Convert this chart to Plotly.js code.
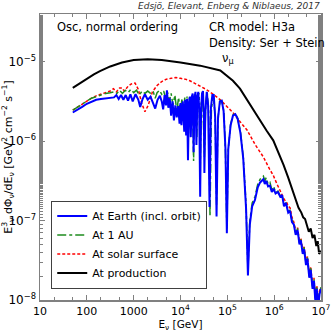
<!DOCTYPE html>
<html>
<head>
<meta charset="utf-8">
<script src="https://cdn.plot.ly/plotly-3.0.1.min.js"></script>
<style>
  html, body { margin: 0; padding: 0; background: #fff; }
  #plot { width: 332px; height: 332px; }
</style>
</head>
<body>
<div id="plot"></div>
<script>
// values, as log10(E/GeV) and log10(flux)
var earthLogE = [1.70,1.80,1.90,2.00,2.10,2.20,2.30,2.40,2.50,2.58,2.63,2.68,2.73,2.78,2.83,2.88,2.93,2.98,3.04,3.10,3.14,3.19,3.24,3.30,3.36,3.42,3.46,3.51,3.56,3.60,3.63,3.66,3.69,3.71,3.74,3.77,3.80,3.83,3.86,3.89,3.92,3.95,3.98,4.00,4.02,4.05,4.08,4.10,4.12,4.14,4.16,4.18,4.20,4.22,4.24,4.26,4.28,4.30,4.32,4.34,4.36,4.38,4.40,4.42,4.44,4.46,4.48,4.50,4.51,4.53,4.56,4.59,4.62,4.65,4.68,4.71,4.74,4.77,4.80,4.84,4.88,4.92,4.96,4.99,5.02,5.07,5.12,5.17,5.22,5.28,5.34,5.40,5.44,5.48,5.53,5.59,5.65,5.70,5.74,5.77,5.80,5.83,5.87,5.91,5.95,5.99,6.03,6.08,6.13,6.17,6.21,6.25,6.30,6.34,6.38,6.42,6.46,6.50,6.54,6.57,6.61,6.64,6.68,6.71,6.75,6.78,6.82,6.85,6.88,6.91,6.94,6.97,7.00];
var earthLogFlux = [-5.64,-5.61,-5.57,-5.53,-5.50,-5.48,-5.47,-5.46,-5.45,-5.45,-5.42,-5.47,-5.42,-5.48,-5.42,-5.49,-5.41,-5.50,-5.41,-5.48,-5.57,-5.47,-5.41,-5.48,-5.44,-5.52,-5.59,-5.48,-5.43,-5.50,-5.60,-5.42,-5.55,-5.36,-5.58,-5.46,-5.68,-5.50,-5.74,-5.55,-5.70,-5.56,-5.78,-5.52,-5.80,-5.50,-5.88,-5.48,-5.93,-5.47,-6.24,-5.52,-5.44,-5.95,-5.45,-5.40,-6.14,-5.45,-5.38,-6.05,-5.45,-5.38,-5.60,-6.70,-5.60,-5.40,-5.37,-5.70,-6.40,-5.65,-5.38,-5.55,-6.83,-5.58,-5.42,-5.42,-5.70,-6.95,-5.72,-5.50,-5.49,-5.62,-6.10,-7.16,-6.10,-5.80,-5.68,-5.66,-5.72,-5.90,-6.22,-6.85,-7.69,-7.05,-6.82,-6.74,-6.58,-6.52,-6.50,-6.48,-6.54,-6.50,-6.57,-6.56,-6.64,-6.60,-6.66,-6.64,-6.70,-6.68,-6.82,-6.78,-6.90,-6.88,-7.02,-7.05,-7.18,-7.12,-7.30,-7.25,-7.42,-7.36,-7.56,-7.48,-7.72,-7.62,-7.86,-7.76,-8.02,-7.86,-8.08,-7.92,-7.86];

var auLogE = [1.70,1.80,1.90,2.00,2.10,2.20,2.30,2.40,2.50,2.58,2.64,2.70,2.76,2.82,2.88,2.94,3.00,3.06,3.12,3.18,3.24,3.30,3.36,3.42,3.46,3.50,3.55,3.60,3.64,3.68,3.72,3.76,3.80,3.84,3.88,3.92,3.96,4.00,4.03,4.06,4.09,4.12,4.14,4.17,4.19,4.22,4.25,4.28,4.30,4.33,4.35,4.37,4.40,4.42,4.44,4.47,4.51,4.54,4.57,4.60,4.63,4.66,4.70,4.74,4.77,4.80,4.85,4.89,4.93,4.96,4.99,5.02,5.07,5.12,5.17,5.22,5.28,5.34,5.40,5.44,5.48,5.53,5.59,5.65,5.70,5.74,5.77,5.80,5.83,5.87,5.91,5.95,5.99,6.03,6.08,6.13,6.17,6.21,6.25,6.30,6.34,6.38,6.42,6.46,6.50,6.54,6.57,6.61,6.64,6.68,6.71,6.75,6.78,6.82,6.85,6.88,6.91,6.94,6.97,7.00];
var auLogFlux = [-5.61,-5.57,-5.53,-5.49,-5.46,-5.44,-5.42,-5.40,-5.39,-5.38,-5.40,-5.36,-5.40,-5.36,-5.39,-5.35,-5.39,-5.36,-5.42,-5.37,-5.40,-5.37,-5.40,-5.38,-5.46,-5.39,-5.36,-5.41,-5.37,-5.45,-5.38,-5.50,-5.40,-5.55,-5.42,-5.62,-5.45,-5.68,-5.46,-5.75,-5.45,-5.85,-5.44,-5.90,-5.45,-5.70,-5.42,-6.25,-5.42,-5.40,-5.95,-5.42,-5.40,-6.40,-5.55,-5.38,-6.20,-5.50,-5.38,-5.60,-6.95,-5.60,-5.42,-5.68,-6.80,-5.70,-5.49,-5.50,-5.65,-6.15,-7.10,-6.10,-5.79,-5.67,-5.65,-5.71,-5.88,-6.20,-6.80,-7.62,-7.00,-6.78,-6.70,-6.54,-6.48,-6.46,-6.44,-6.50,-6.46,-6.54,-6.52,-6.61,-6.57,-6.65,-6.63,-6.69,-6.68,-6.80,-6.78,-6.88,-6.87,-7.00,-7.03,-7.16,-7.10,-7.28,-7.24,-7.40,-7.34,-7.54,-7.46,-7.70,-7.60,-7.84,-7.74,-7.98,-7.84,-8.04,-7.90,-7.84];

var sunLogE = [1.70,1.80,1.90,2.00,2.10,2.20,2.30,2.40,2.50,2.57,2.63,2.70,2.75,2.80,2.88,2.95,3.03,3.10,3.17,3.24,3.31,3.40,3.50,3.60,3.70,3.80,3.90,4.00,4.10,4.20,4.30,4.42,4.55,4.70,4.85,5.00,5.12,5.25,5.42,5.60,5.77,5.90,5.98,6.06,6.13,6.18,6.22,6.26,6.30,6.34,6.38,6.42,6.46,6.50,6.54,6.57,6.61,6.64,6.68,6.71,6.75,6.78,6.82,6.85,6.88,6.91,6.94,6.97,7.00];
var sunLogFlux = [-5.61,-5.57,-5.53,-5.49,-5.46,-5.43,-5.41,-5.39,-5.37,-5.34,-5.38,-5.33,-5.33,-5.37,-5.31,-5.28,-5.27,-5.35,-5.52,-5.63,-5.55,-5.38,-5.30,-5.25,-5.22,-5.21,-5.20,-5.21,-5.22,-5.24,-5.27,-5.31,-5.35,-5.41,-5.48,-5.57,-5.64,-5.74,-5.86,-6.05,-6.20,-6.35,-6.43,-6.54,-6.62,-6.68,-6.74,-6.76,-6.82,-6.84,-6.96,-7.02,-7.14,-7.09,-7.27,-7.22,-7.38,-7.33,-7.52,-7.45,-7.68,-7.58,-7.82,-7.72,-7.98,-7.82,-8.02,-7.88,-7.84];

var prodLogE = [1.70,1.85,2.00,2.15,2.28,2.50,2.75,3.00,3.30,3.60,4.00,4.42,4.85,5.12,5.27,5.49,5.70,5.84,5.98,6.10,6.20,6.30,6.41,6.52,6.58,6.62,6.66,6.70,6.74,6.78,6.82,6.86,6.90,6.93,6.96,7.00];
var prodLogFlux = [-5.33,-5.27,-5.21,-5.16,-5.12,-5.06,-5.01,-4.98,-4.97,-4.98,-5.01,-5.05,-5.11,-5.24,-5.34,-5.55,-5.74,-5.87,-5.99,-6.15,-6.30,-6.46,-6.64,-6.84,-6.90,-6.96,-6.98,-7.06,-7.14,-7.10,-7.22,-7.18,-7.32,-7.26,-7.42,-7.38];

var xTickVals = [10, 100, 1000, 1e4, 1e5, 1e6, 1e7];
var xTickText = ['10', '100', '1000', '10<sup>4</sup>', '10<sup>5</sup>', '10<sup>6</sup>', '10<sup>7</sup>'];
var yTickVals = [1e-8, 1e-7, 1e-6, 1e-5];
var yTickText = ['10<sup>−8</sup>', '10<sup>−7</sup>', '10<sup>−6</sup>', '10<sup>−5</sup>'];

function lin(a) { return a.map(function (v) { return Math.pow(10, v); }); }

var prod = {
  x: lin(prodLogE), y: lin(prodLogFlux), name: 'At production',
  type: 'scatter', mode: 'lines', line: {color: '#000000', width: 2}
};
var sun = {
  x: lin(sunLogE), y: lin(sunLogFlux), name: 'At solar surface',
  type: 'scatter', mode: 'lines', line: {color: '#ff0000', width: 1.5, dash: '3px,2px'}
};
var au = {
  x: lin(auLogE), y: lin(auLogFlux), name: 'At 1 AU',
  type: 'scatter', mode: 'lines', line: {color: '#1e8c1e', width: 1.5, dash: 'dashdot'}
};
var earth = {
  x: lin(earthLogE), y: lin(earthLogFlux), name: 'At Earth (incl. orbit)',
  type: 'scatter', mode: 'lines', line: {color: '#0000ff', width: 2}
};

var data = [prod, sun, au, earth];

var axisStyle = {
  type: 'log', showgrid: false, zeroline: false,
  showline: true, linecolor: '#808080', linewidth: 1.5, mirror: 'allticks',
  ticks: 'inside', ticklen: 5, tickcolor: '#808080',
  minor: {ticks: 'inside', ticklen: 3, tickcolor: '#808080', showgrid: false},
  tickfont: {size: 12, color: '#000'}
};

var layout = {
  width: 332, height: 332,
  margin: {l: 40, r: 11, t: 14, b: 32},
  paper_bgcolor: '#fff', plot_bgcolor: '#fff',
  font: {family: 'DejaVu Sans, sans-serif', size: 11.5, color: '#000'},
  showlegend: true,
  legend: {
    x: 0.04, y: 0.04, xanchor: 'left', yanchor: 'bottom',
    traceorder: 'reversed', bgcolor: '#fff',
    bordercolor: '#404040', borderwidth: 1,
    font: {size: 11}, itemwidth: 30
  },
  xaxis: Object.assign({}, axisStyle, {
    range: [1, 7], tickvals: xTickVals, ticktext: xTickText,
    tickfont: {size: 11, color: '#000'},
    title: {text: 'E<sub>ν</sub> [GeV]', font: {size: 10.5}}
  }),
  yaxis: Object.assign({}, axisStyle, {
    range: [-8, -4.4], tickvals: yTickVals, ticktext: yTickText,
    title: {text: 'E<sup>3</sup><sub>ν</sub> dΦ<sub>ν</sub>/dE<sub>ν</sub> [GeV<sup>2</sup> cm<sup>−2</sup> s<sup>−1</sup>]', font: {size: 11}, standoff: 0}
  }),
  annotations: [
    {text: '<i>Edsjö, Elevant, Enberg & Niblaeus, 2017</i>', xref: 'paper', yref: 'paper',
     x: 1.004, y: 1.027, xanchor: 'right', yanchor: 'middle', showarrow: false,
     font: {size: 9, color: '#333'}},
    {text: 'Osc, normal ordering', xref: 'paper', yref: 'paper',
     x: 0.053, y: 0.956, xanchor: 'left', yanchor: 'middle', showarrow: false},
    {text: 'CR model: H3a', xref: 'paper', yref: 'paper',
     x: 0.594, y: 0.953, xanchor: 'left', yanchor: 'middle', showarrow: false},
    {text: 'Density: Ser + Stein', xref: 'paper', yref: 'paper',
     x: 0.594, y: 0.90, xanchor: 'left', yanchor: 'middle', showarrow: false},
    {text: 'ν<sub>μ</sub>', xref: 'paper', yref: 'paper',
     x: 0.64, y: 0.845, xanchor: 'left', yanchor: 'middle', showarrow: false}
  ]
};

Plotly.newPlot('plot', data, layout, {staticPlot: true, displayModeBar: false});
</script>
</body>
</html>
